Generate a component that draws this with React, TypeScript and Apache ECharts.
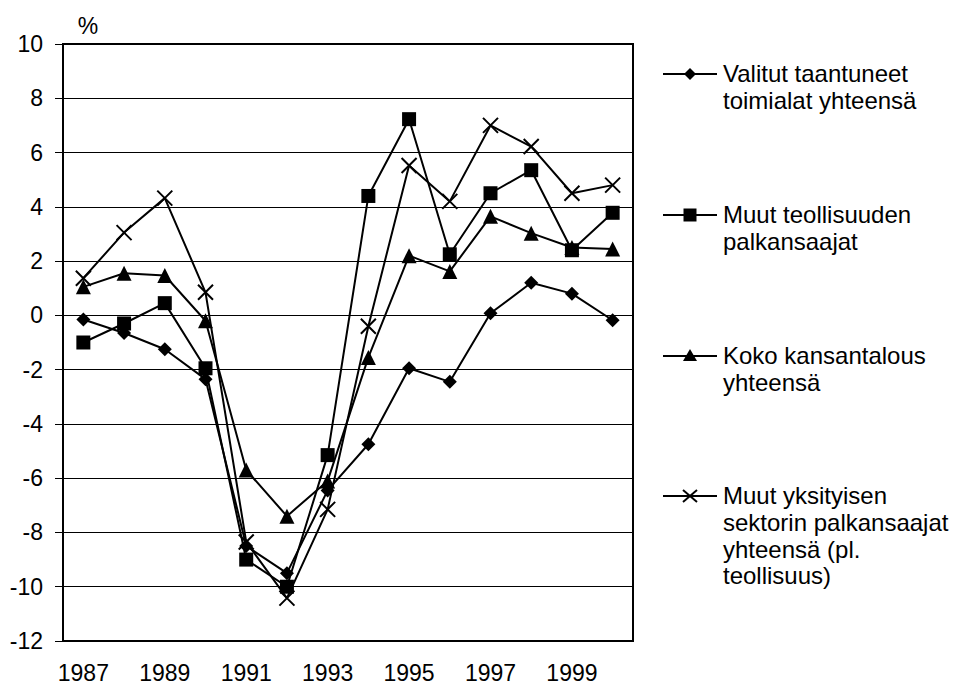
import React, { useEffect, useRef } from "react";
import * as echarts from "echarts";

const years = ["1987","1988","1989","1990","1991","1992","1993","1994","1995","1996","1997","1998","1999","2000"];
const valitut = [-0.15, -0.65, -1.25, -2.35, -8.5, -9.5, -6.45, -4.75, -1.95, -2.45, 0.08, 1.2, 0.8, -0.18];
const muutTeollisuus = [-1.0, -0.3, 0.45, -1.95, -9.0, -10.0, -5.15, 4.4, 7.23, 2.25, 4.5, 5.35, 2.4, 3.78];
const kokoKansantalous = [1.05, 1.55, 1.47, -0.2, -5.7, -7.4, -6.1, -1.55, 2.2, 1.62, 3.65, 3.03, 2.5, 2.45];
const muutYksityinen = [1.37, 3.05, 4.32, 0.85, -8.35, -10.42, -7.15, -0.4, 5.52, 4.2, 7.0, 6.22, 4.5, 4.8];

const legendNames = [
  "Valitut taantuneet\ntoimialat yhteensä",
  "Muut teollisuuden\npalkansaajat",
  "Koko kansantalous\nyhteensä",
  "Muut yksityisen\nsektorin palkansaajat\nyhteensä (pl.\nteollisuus)",
];
const seriesNames = [
  "Valitut taantuneet toimialat yhteensä",
  "Muut teollisuuden palkansaajat",
  "Koko kansantalous yhteensä",
  "Muut yksityisen sektorin palkansaajat yhteensä (pl. teollisuus)",
];

const FONT = "'Liberation Sans', Arial, sans-serif";
const CROSS = "path://M0,0L10,10M10,0L0,10";

export default function App() {
  const ref = useRef<HTMLDivElement>(null);
  useEffect(() => {
    if (!ref.current) return;
    const chart = echarts.init(ref.current, undefined, { renderer: "svg" });

    const legendYs = [74, 215, 356, 496];
    const lx0 = 663, lx1 = 717, lcx = 690, tx = 723;
    const graphics: any[] = [
      {
        type: "text",
        x: 88,
        y: 26,
        style: { text: "%", font: `23px ${FONT}`, fill: "#000", align: "center", verticalAlign: "middle" },
      },
    ];
    legendYs.forEach((y, i) => {
      graphics.push({ type: "line", shape: { x1: lx0, y1: y, x2: lx1, y2: y }, style: { stroke: "#000", lineWidth: 2 } });
      if (i === 0) {
        graphics.push({ type: "polygon", shape: { points: [[lcx, y - 6], [lcx + 6, y], [lcx, y + 6], [lcx - 6, y]] }, style: { fill: "#000" } });
      } else if (i === 1) {
        graphics.push({ type: "rect", shape: { x: lcx - 6.5, y: y - 6.5, width: 13, height: 13 }, style: { fill: "#000" } });
      } else if (i === 2) {
        graphics.push({ type: "polygon", shape: { points: [[lcx, y - 7], [lcx + 7, y + 5], [lcx - 7, y + 5]] }, style: { fill: "#000" } });
      } else {
        graphics.push({ type: "line", shape: { x1: lcx - 7, y1: y - 6, x2: lcx + 7, y2: y + 6 }, style: { stroke: "#000", lineWidth: 2 } });
        graphics.push({ type: "line", shape: { x1: lcx - 7, y1: y + 6, x2: lcx + 7, y2: y - 6 }, style: { stroke: "#000", lineWidth: 2 } });
      }
      graphics.push({
        type: "text",
        x: tx,
        y: y - 13.5,
        style: { text: legendNames[i], font: `24px ${FONT}`, fill: "#000", lineHeight: 26.7, verticalAlign: "top", align: "left" },
      });
    });

    const mk = (name: string, data: number[], symbol: string, size: number, extra: any = {}) => ({
      name,
      type: "line",
      data,
      symbol,
      symbolSize: size,
      lineStyle: { color: "#000", width: 2 },
      itemStyle: { color: "#000", ...extra },
      emphasis: { disabled: true },
    });

    chart.setOption({
      animation: false,
      textStyle: { fontFamily: FONT },
      grid: { left: 63, top: 44, right: 321, bottom: 43, show: true, borderColor: "#000", borderWidth: 2, backgroundColor: "transparent" },
      graphic: graphics,
      xAxis: {
        type: "category",
        data: years,
        boundaryGap: true,
        axisLine: { onZero: false, lineStyle: { color: "#000", width: 2 } },
        axisTick: { interval: 0, length: 8, lineStyle: { color: "#000", width: 1 } },
        axisLabel: { interval: 1, color: "#000", fontSize: 23, fontFamily: FONT, margin: 20 },
        splitLine: { show: false },
      },
      yAxis: {
        type: "value",
        min: -12,
        max: 10,
        interval: 2,
        axisLine: { show: true, lineStyle: { color: "#000", width: 2 } },
        axisTick: { show: true, length: 8, lineStyle: { color: "#000", width: 1 } },
        axisLabel: { color: "#000", fontSize: 23, fontFamily: FONT, margin: 20 },
        splitLine: { show: true, lineStyle: { color: "#000", width: 1 } },
      },
      series: [
        mk(seriesNames[0], valitut, "diamond", 14),
        mk(seriesNames[1], muutTeollisuus, "rect", 14),
        mk(seriesNames[2], kokoKansantalous, "triangle", 15),
        mk(seriesNames[3], muutYksityinen, CROSS, 15, { color: "none", borderColor: "#000", borderWidth: 2 }),
      ],
    });
    return () => chart.dispose();
  }, []);
  return (
    <div
      ref={ref}
      style={{ position: "fixed", left: 0, top: 0, width: 954, height: 684, background: "#fff" }}
    />
  );
}
